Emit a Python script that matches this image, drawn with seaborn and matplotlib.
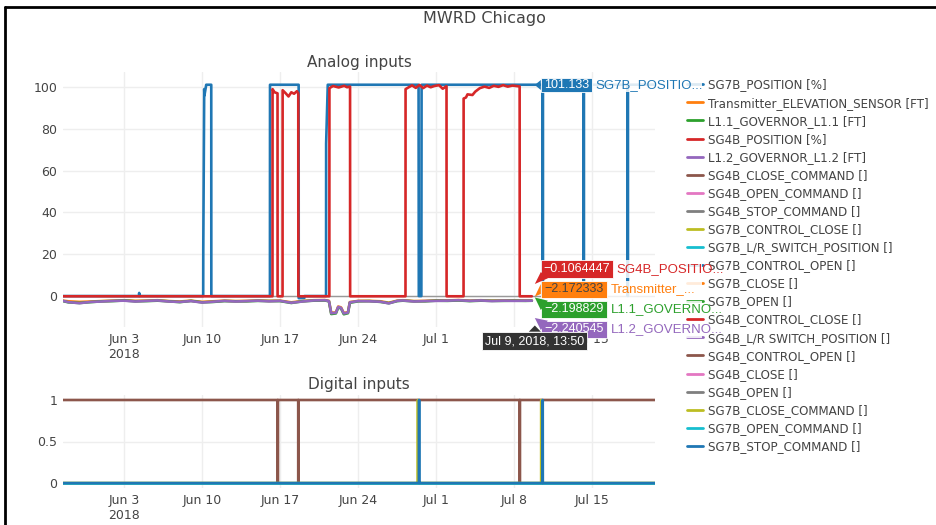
import matplotlib
matplotlib.use("Agg")
import matplotlib.pyplot as plt
import matplotlib.dates as mdates
from matplotlib.lines import Line2D
from matplotlib.patches import Polygon, Rectangle
import pandas as pd
import seaborn as sns

# ---------------- data ----------------
x_start = "2018-05-28 12:30"
x_end = "2018-07-20 15:00"
hover_time = "2018-07-09 13:50"

tick_dates = ["2018-06-03", "2018-06-10", "2018-06-17", "2018-06-24",
              "2018-07-01", "2018-07-08", "2018-07-15"]
tick_labels = ["Jun 3\n2018", "Jun 10", "Jun 17", "Jun 24", "Jul 1", "Jul 8", "Jul 15"]

# SG7B_POSITION [%]
sg7b_pos_times = [
    "2018-05-28 12:30", "2018-06-04 08:00", "2018-06-04 08:30", "2018-06-04 09:00",
    "2018-06-10 02:20", "2018-06-10 02:30", "2018-06-10 04:30", "2018-06-10 05:00",
    "2018-06-10 08:50", "2018-06-10 19:40", "2018-06-10 19:50",
    "2018-06-16 02:00", "2018-06-16 02:10", "2018-06-18 15:50", "2018-06-18 16:00",
    "2018-06-19 04:00", "2018-06-19 04:10",
    "2018-06-21 02:50", "2018-06-21 03:00", "2018-06-21 06:30",
    "2018-06-29 10:00", "2018-06-29 10:30", "2018-06-29 16:00", "2018-06-29 16:30",
    "2018-07-10 13:20", "2018-07-10 13:30", "2018-07-10 13:40",
    "2018-07-14 05:35", "2018-07-14 05:45", "2018-07-14 05:55",
    "2018-07-18 04:20", "2018-07-18 04:30", "2018-07-18 04:40",
    "2018-07-20 15:00",
]
sg7b_pos_vals = [
    0, 0, 1.5, 0,
    0, 22, 99, 96,
    101.1, 101.1, 0,
    0, 101.1, 101.1, -1,
    -1, 0,
    0, 73, 101.1,
    101.1, 0, 0, 101.1,
    101.1, 0, 101.1,
    101.1, 0, 101.1,
    101.1, 0, 101.1,
    101.133,
]

# SG4B_POSITION [%]
sg4b_pos_times = [
    "2018-05-28 12:30", "2018-06-16 07:30", "2018-06-16 07:40", "2018-06-16 12:00",
    "2018-06-16 18:20", "2018-06-16 18:30",
    "2018-06-17 05:10", "2018-06-17 05:20", "2018-06-17 12:00", "2018-06-17 18:00",
    "2018-06-18 00:00", "2018-06-18 06:00", "2018-06-18 12:00", "2018-06-18 15:00",
    "2018-06-18 15:10",
    "2018-06-21 09:55", "2018-06-21 10:05", "2018-06-21 18:00", "2018-06-22 06:00",
    "2018-06-22 18:00", "2018-06-23 00:00", "2018-06-23 06:30", "2018-06-23 06:40",
    "2018-06-28 05:50", "2018-06-28 06:00", "2018-06-28 12:00", "2018-06-28 20:00",
    "2018-06-29 04:00", "2018-06-29 12:00", "2018-06-29 20:00", "2018-06-30 04:00",
    "2018-06-30 12:00", "2018-06-30 20:00", "2018-07-01 06:00", "2018-07-01 14:00",
    "2018-07-01 22:10", "2018-07-01 22:20",
    "2018-07-03 10:50", "2018-07-03 11:00", "2018-07-03 16:00", "2018-07-03 19:20",
    "2018-07-04 06:00", "2018-07-04 12:00", "2018-07-04 22:00", "2018-07-05 08:00",
    "2018-07-05 18:00", "2018-07-06 04:00", "2018-07-06 14:00", "2018-07-07 00:00",
    "2018-07-07 10:00", "2018-07-07 20:00", "2018-07-08 11:35", "2018-07-08 11:45",
    "2018-07-09 13:50",
]
sg4b_pos_vals = [
    -0.1, -0.1, 99, 97.5,
    97, -0.1,
    -0.1, 98.5, 97, 95.5,
    97.5, 96.8, 98, 97,
    -0.1,
    -0.1, 99.5, 100.5, 99.8,
    100.6, 99.9, 100.2, -0.1,
    -0.1, 99, 99.8, 100.8,
    99.6, 101, 99.5, 100.7,
    99.9, 100.5, 100.9, 99.2,
    100.4, -0.1,
    -0.1, 94.5, 95, 96.5,
    96.2, 97.8, 99.5, 100.2,
    99.6, 100.6, 100.1, 100.9,
    100.2, 100.7, 100.3, -0.1,
    -0.1064447,
]

# governors / transmitter share timestamps
gov_times = [
    "2018-05-28 12:30", "2018-05-29 00:00", "2018-05-30 00:00", "2018-05-31 00:00",
    "2018-06-01 00:00", "2018-06-02 00:00", "2018-06-03 00:00", "2018-06-04 00:00",
    "2018-06-05 00:00", "2018-06-06 00:00", "2018-06-07 00:00", "2018-06-08 00:00",
    "2018-06-09 00:00", "2018-06-10 00:00", "2018-06-11 00:00", "2018-06-12 00:00",
    "2018-06-13 00:00", "2018-06-14 00:00", "2018-06-15 00:00", "2018-06-16 00:00",
    "2018-06-17 00:00", "2018-06-18 00:00", "2018-06-19 00:00", "2018-06-20 00:00",
    "2018-06-21 00:00",
    "2018-06-21 09:00", "2018-06-21 14:00", "2018-06-22 00:00", "2018-06-22 05:00",
    "2018-06-22 11:00", "2018-06-22 17:00", "2018-06-23 02:00", "2018-06-23 06:00",
    "2018-06-24 00:00", "2018-06-25 00:00", "2018-06-26 00:00", "2018-06-26 18:00",
    "2018-06-27 12:00", "2018-06-28 00:00", "2018-06-29 00:00", "2018-06-30 00:00",
    "2018-07-01 00:00", "2018-07-02 00:00", "2018-07-03 00:00", "2018-07-04 00:00",
    "2018-07-05 00:00", "2018-07-06 00:00", "2018-07-07 00:00", "2018-07-08 00:00",
    "2018-07-09 00:00", "2018-07-09 13:50",
]
transmitter_vals = [
    -2.2, -2.5, -2.8, -2.6, -2.4, -2.2, -2.0, -2.3, -2.2, -2.0,
    -2.4, -2.6, -2.2, -2.8, -2.5, -2.2, -2.4, -2.3, -2.1, -2.3,
    -2.2, -3.0, -2.4, -2.0, -1.9,
    -2.3, -8.0, -7.8, -5.0, -5.4, -8.1, -7.7, -2.9,
    -2.3, -2.3, -2.5, -3.2, -2.2, -2.0, -2.4, -2.3, -2.1, -2.1,
    -1.9, -2.2, -2.0, -2.2, -2.1, -2.1, -2.1, -2.172333,
]
l11_vals = [
    -2.4, -3.0, -3.3, -2.9, -2.5, -2.4, -2.1, -2.5, -2.4, -2.2,
    -2.5, -2.9, -2.3, -3.0, -2.8, -2.4, -2.5, -2.5, -2.3, -2.4,
    -2.4, -3.3, -2.5, -2.2, -2.1,
    -2.5, -8.6, -8.3, -5.5, -5.9, -8.7, -8.2, -3.2,
    -2.5, -2.4, -2.8, -3.4, -2.4, -2.2, -2.5, -2.5, -2.2, -2.3,
    -2.1, -2.4, -2.2, -2.3, -2.3, -2.2, -2.3, -2.198829,
]
l12_vals = [
    -2.3, -2.9, -3.4, -2.8, -2.6, -2.3, -2.2, -2.6, -2.3, -2.1,
    -2.6, -2.8, -2.4, -3.1, -2.7, -2.3, -2.6, -2.4, -2.2, -2.5,
    -2.3, -3.2, -2.6, -2.1, -2.0,
    -2.4, -8.2, -8.0, -5.2, -5.6, -8.3, -7.9, -3.0,
    -2.4, -2.5, -2.7, -3.5, -2.3, -2.1, -2.6, -2.4, -2.3, -2.2,
    -2.0, -2.3, -2.1, -2.4, -2.2, -2.3, -2.2, -2.240545,
]

# digital inputs
flat_times = [x_start, x_end]
flat_zero = [0, 0]
sg4b_ctrl_open_times = [
    x_start, "2018-06-16 18:50", "2018-06-16 19:00", "2018-06-16 19:10",
    "2018-06-18 14:50", "2018-06-18 15:00", "2018-06-18 15:10",
    "2018-07-08 11:50", "2018-07-08 12:00", "2018-07-08 12:10", x_end,
]
sg4b_ctrl_open_vals = [1, 1, 0, 1, 1, 0, 1, 1, 0, 1, 1]
sg7b_close_cmd_times = [
    x_start, "2018-06-29 08:30", "2018-06-29 08:40", "2018-06-29 08:50",
    "2018-07-10 09:55", "2018-07-10 10:05", "2018-07-10 10:15", x_end,
]
sg7b_close_cmd_vals = [0, 0, 1, 0, 0, 1, 0, 0]
sg7b_stop_cmd_times = [
    x_start, "2018-06-29 10:50", "2018-06-29 11:00", "2018-06-29 11:20", "2018-06-29 11:30",
    "2018-07-10 12:50", "2018-07-10 13:00", "2018-07-10 13:20", "2018-07-10 13:30", x_end,
]
sg7b_stop_cmd_vals = [0, 0, 1, 1, 0, 0, 1, 1, 0, 0]

analog_names = ["SG7B_POSITION [%]", "Transmitter_ELEVATION_SENSOR [FT]",
                "L1.1_GOVERNOR_L1.1 [FT]", "SG4B_POSITION [%]", "L1.2_GOVERNOR_L1.2 [FT]"]
digital_names = ["SG4B_CLOSE_COMMAND []", "SG4B_OPEN_COMMAND []", "SG4B_STOP_COMMAND []",
                 "SG7B_CONTROL_CLOSE []", "SG7B_L/R_SWITCH_POSITION []", "SG7B_CONTROL_OPEN []",
                 "SG7B_CLOSE []", "SG7B_OPEN []", "SG4B_CONTROL_CLOSE []",
                 "SG4B_L/R SWITCH_POSITION []", "SG4B_CONTROL_OPEN []", "SG4B_CLOSE []",
                 "SG4B_OPEN []", "SG7B_CLOSE_COMMAND []", "SG7B_OPEN_COMMAND []",
                 "SG7B_STOP_COMMAND []"]

hover_names = ["SG7B_POSITIO...", "SG4B_POSITIO...", "Transmitter_...",
               "L1.1_GOVERNO...", "L1.2_GOVERNO..."]
hover_vals = ["101.133", "\u22120.1064447", "\u22122.172333", "\u22122.198829", "\u22122.240545"]

plotly_colors = ["#1f77b4", "#ff7f0e", "#2ca02c", "#d62728", "#9467bd",
                 "#8c564b", "#e377c2", "#7f7f7f", "#bcbd22", "#17becf"]

# ---------------- figure ----------------
W, H = 937, 525
sns.set_theme(style="white")
plt.rcParams['font.family'] = ['DejaVu Sans']
TXT = '#444444'
FS = 9
HFONT = ['Liberation Sans', 'DejaVu Sans']
HFS = 9


def px(x, y):
    return (x / W, 1 - y / H)


def dates(t):
    return pd.to_datetime(t, format='mixed')


fig = plt.figure(figsize=(W / 100, H / 100), dpi=100)
fig.patch.set_facecolor('white')
ax1 = fig.add_axes([63 / W, 1 - 327 / H, (655 - 63) / W, (327 - 72) / H])
ax2 = fig.add_axes([63 / W, 1 - 488 / H, (655 - 63) / W, (488 - 395) / H])

LW = 1.9
kw = dict(estimator=None, sort=False, legend=False)

# analog traces, plotly order
analog_series = [
    (sg7b_pos_times, sg7b_pos_vals),
    (gov_times, transmitter_vals),
    (gov_times, l11_vals),
    (sg4b_pos_times, sg4b_pos_vals),
    (gov_times, l12_vals),
]
for i, (t, v) in enumerate(analog_series):
    sns.lineplot(x=dates(t), y=v, ax=ax1, color=plotly_colors[i], lw=LW, **kw)

# digital traces
digital_series = {name: (flat_times, flat_zero) for name in digital_names}
digital_series["SG4B_CONTROL_OPEN []"] = (sg4b_ctrl_open_times, sg4b_ctrl_open_vals)
digital_series["SG7B_CLOSE_COMMAND []"] = (sg7b_close_cmd_times, sg7b_close_cmd_vals)
digital_series["SG7B_STOP_COMMAND []"] = (sg7b_stop_cmd_times, sg7b_stop_cmd_vals)
for j, name in enumerate(digital_names):
    t, v = digital_series[name]
    sns.lineplot(x=dates(t), y=v, ax=ax2, color=plotly_colors[(j + 5) % 10], lw=LW, **kw)

# axes styling
for ax in (ax1, ax2):
    ax.set_facecolor('white')
    for sp in ax.spines.values():
        sp.set_visible(False)
    ax.set_axisbelow(True)
    ax.grid(True, color='#eeeeee', lw=1)
    ax.tick_params(length=0, labelsize=FS, colors=TXT, pad=4)
    ax.set_xlim(pd.Timestamp(x_start), pd.Timestamp(x_end))
    ax.set_xticks(dates(tick_dates))
    ax.set_xticklabels(tick_labels)
    ax.set_xlabel('')
    ax.set_ylabel('')

ax1.set_ylim(-14.8, 107.2)
ax1.set_yticks([0, 20, 40, 60, 80, 100])
ax1.set_yticklabels(["0", "20", "40", "60", "80", "100"])
ax1.axhline(0, color='#999999', lw=1, zorder=1.5)
ax2.set_ylim(-0.06, 1.06)
ax2.set_yticks([0, 0.5, 1])
ax2.set_yticklabels(["0", "0.5", "1"])

# titles
fig.text(*px(484, 18), "MWRD Chicago", ha='center', va='center', fontsize=11.5, color=TXT)
fig.text(*px(359, 62), "Analog inputs", ha='center', va='center', fontsize=11, color=TXT)
fig.text(*px(359, 385), "Digital inputs", ha='center', va='center', fontsize=11, color=TXT)

# legend
all_names = analog_names + digital_names
handles = [Line2D([], [], color=plotly_colors[k % 10], lw=2) for k in range(len(all_names))]
fig.legend(handles, all_names, loc='upper left', bbox_to_anchor=px(687, 78.5),
           frameon=False, fontsize=8.6, labelcolor=TXT, handlelength=1.3,
           handletextpad=0.5, labelspacing=0.425, borderaxespad=0, borderpad=0)

# hover labels (anchored at the hovered timestamp)
fig.canvas.draw()
hx_disp = ax1.transData.transform((mdates.date2num(pd.Timestamp(hover_time)), 0))
hx = hx_disp[0] + 3
bx = hx + 6
Z = 20
boxes = [  # (top, bottom, right, fill, text color, value, name, name color)
    (78.3, 91.7, bx + 51, plotly_colors[0], 'white', hover_vals[0], hover_names[0], plotly_colors[0]),
    (260, 278.3, bx + 72, plotly_colors[3], 'white', hover_vals[1], hover_names[1], plotly_colors[3]),
    (280.7, 298.3, bx + 66, plotly_colors[1], TXT, hover_vals[2], hover_names[2], plotly_colors[1]),
    (300.7, 318.3, bx + 66, plotly_colors[2], 'white', hover_vals[3], hover_names[3], plotly_colors[2]),
    (320.7, 338.3, bx + 66, plotly_colors[4], 'white', hover_vals[4], hover_names[4], plotly_colors[4]),
]
pointers = [
    [(bx, 80), (hx, 85), (bx, 90)],
    [(bx, 272), (hx, 284), (bx + 7, 278.3)],
    [(bx, 284), (hx, 296.5), (bx, 294)],
    [(bx, 310), (hx, 297.5), (bx + 7, 300.7)],
    [(bx, 330), (hx, 318), (bx + 7, 320.7)],
]
for (top, bot, right, fc, tc, val, name, nc), ptr in zip(boxes, pointers):
    # name, on a translucent white strip
    fig.patches.append(Rectangle(px(right, bot), (702 - right) / W, (bot - top) / H,
                                 transform=fig.transFigure, fc='white', ec='none',
                                 alpha=0.85, zorder=Z))
    fig.text(*px(right + 4, (top + bot) / 2), name, color=nc, fontsize=HFS + 0.5, family=HFONT,
             ha='left', va='center', zorder=Z + 1)
    fig.patches.append(Rectangle(px(bx, bot), (right - bx) / W, (bot - top) / H,
                                 transform=fig.transFigure, fc=fc, ec='white', lw=0.6,
                                 zorder=Z + 2))
    fig.patches.append(Polygon([px(*p) for p in ptr], closed=True, transform=fig.transFigure,
                               fc=fc, ec='none', zorder=Z + 2))
    fig.text(*px((bx + right) / 2, (top + bot) / 2), val, color=tc, fontsize=HFS,
             family=HFONT, ha='center', va='center', zorder=Z + 3)

# x hover tooltip
fig.patches.append(Rectangle(px(hx - 53, 350), 105 / W, 18.3 / H, transform=fig.transFigure,
                             fc='#333333', ec='white', lw=0.6, zorder=Z + 4))
fig.patches.append(Polygon([px(hx - 6, 331.7), px(hx, 325.5), px(hx + 6, 331.7)], closed=True,
                           transform=fig.transFigure, fc='#333333', ec='none', zorder=Z + 4))
fig.text(*px(hx - 0.5, 341), "Jul 9, 2018, 13:50", color='white', fontsize=HFS, family=HFONT,
         ha='center', va='center', zorder=Z + 5)

# screenshot frame
fig.add_artist(Line2D([5 / W, 5 / W], [0, 1 - 7 / H], transform=fig.transFigure,
                      color='black', lw=2))
fig.add_artist(Line2D([5 / W, 1], [1 - 7 / H, 1 - 7 / H], transform=fig.transFigure,
                      color='black', lw=2))

fig.savefig("out.png", dpi=100, facecolor='white')
plt.close(fig)
